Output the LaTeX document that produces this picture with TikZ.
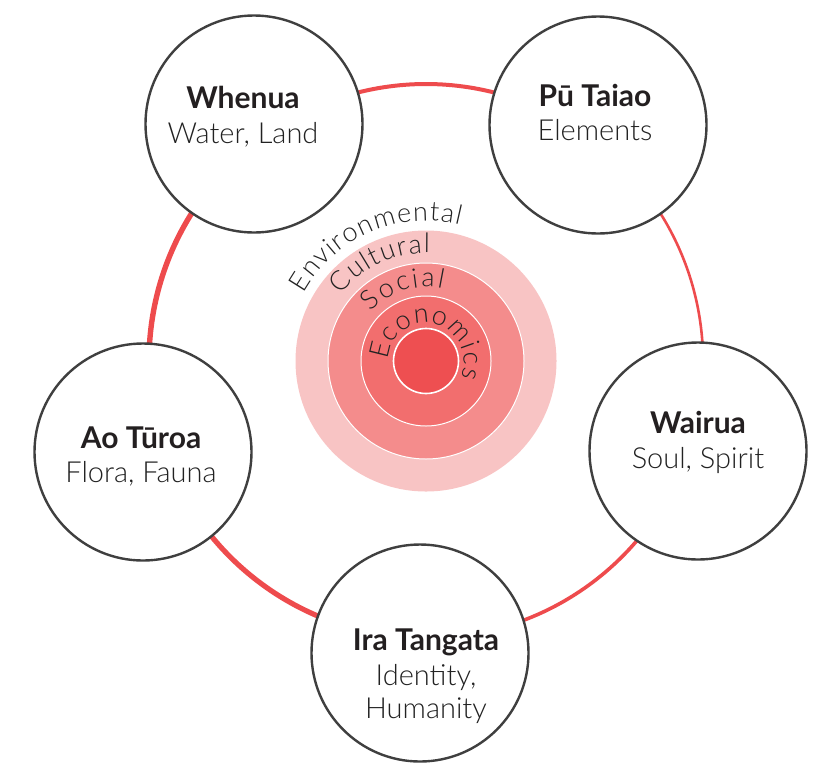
\documentclass[tikz,border=0pt]{standalone}
\usepackage{fontspec}
\setmainfont{Lato}
\newfontfamily\lightfont{Lato Light}
\usetikzlibrary{decorations.text}
\definecolor{ringred}{HTML}{EE4B4D}
\definecolor{ringA}{HTML}{F8C4C4}
\definecolor{ringB}{HTML}{F48C8C}
\definecolor{ringC}{HTML}{F26E6E}
\definecolor{ringD}{HTML}{EE4F51}
\definecolor{edgegray}{HTML}{3F3F3F}
\definecolor{inkdark}{HTML}{231F20}
\definecolor{inkgray}{HTML}{222222}

\begin{document}
\begin{tikzpicture}[
    x=1pt, y=1pt,
    bubble/.style={circle, draw=edgegray, line width=2.4pt, fill=white,
      minimum size=217pt, inner sep=0pt},
    title/.style={font=\bfseries\fontsize{30}{34}\selectfont, text=inkdark,
      anchor=base, inner sep=0pt},
    subtitle/.style={font=\lightfont\fontsize{29}{33}\selectfont, text=inkgray,
      anchor=base, align=center, inner sep=0pt},
    ringlabel/.style={decorate, decoration={text along path,
      text align=fit to path, text color=inkgray,
      text={|\lightfont\fontsize{27}{27}\selectfont|#1}}},
  ]

  % Canvas
  \useasboundingbox (0,0) rectangle (826,-764);
  \coordinate (hub) at (426,-361);

  % === Red ring behind the five circles ===
  % segments: start angle / end angle / width
  \foreach \a/\b/\w in {126/54/4, 54/-18/2.6, -18/-90/3.6, -90/-162/5.2, 198/126/5.4}
    \draw[ringred, line width=\w pt, shift={(hub)}]
      (\a:277) arc[start angle=\a, end angle=\b, radius=277];

  % === Concentric rings in the middle ===
  \fill[ringA] (hub) circle[radius=130.5];
  \draw[white, line width=1pt, fill=ringB] (hub) circle[radius=98];
  \draw[white, line width=1pt, fill=ringC] (hub) circle[radius=65];
  \draw[white, line width=1.6pt, fill=ringD] (hub) circle[radius=32.5];

  % --- ring labels, set along arcs ---
  \path[ringlabel=Environmental, shift={(hub)}]
    (151:140) arc[start angle=151, end angle=76, radius=140];
  \path[ringlabel=Cultural, shift={(hub)}]
    (142:108) arc[start angle=142, end angle=88, radius=108];
  \path[ringlabel=Social, shift={(hub)}]
    (138:74) arc[start angle=138, end angle=77, radius=74];
  \path[ringlabel=Economics, shift={(hub)}]
    (178:38) arc[start angle=178, end angle=-25, radius=38];

  % === The five circles ===
  \node[bubble] (whenua) at (254,-124) {};
  \node[bubble] (putaiao) at (598,-125) {};
  \node[bubble] (wairua) at (698,-451) {};
  \node[bubble] (iratangata) at (420,-653) {};
  \node[bubble] (aoturoa) at (143,-452) {};

  % --- texts inside the circles ---
  \node[title] (whenuaT) at ([xshift=-11, yshift=16]whenua.center) {Whenua};
  \node[subtitle] (whenuaS) at ([xshift=-11, yshift=-19]whenua.center) {Water, Land};

  \node[title] (putaiaoT) at ([xshift=-3, yshift=19]putaiao.center) {Pū Taiao};
  \node[subtitle] (putaiaoS) at ([xshift=-3, yshift=-15]putaiao.center) {Elements};

  \node[title] (wairuaT) at ([yshift=18]wairua.center) {Wairua};
  \node[subtitle] (wairuaS) at ([yshift=-17]wairua.center) {Soul, Spirit};

  \node[title] (iratangataT) at ([xshift=6, yshift=3]iratangata.center) {Ira Tangata};
  \node[subtitle] (iratangataS) at ([xshift=6, yshift=-65]iratangata.center) {Identity,\\Humanity};

  \node[title] (aoturoaT) at ([xshift=-2, yshift=4]aoturoa.center) {Ao Tūroa};
  \node[subtitle] (aoturoaS) at ([xshift=-2, yshift=-30]aoturoa.center) {Flora, Fauna};

\end{tikzpicture}
\end{document}
